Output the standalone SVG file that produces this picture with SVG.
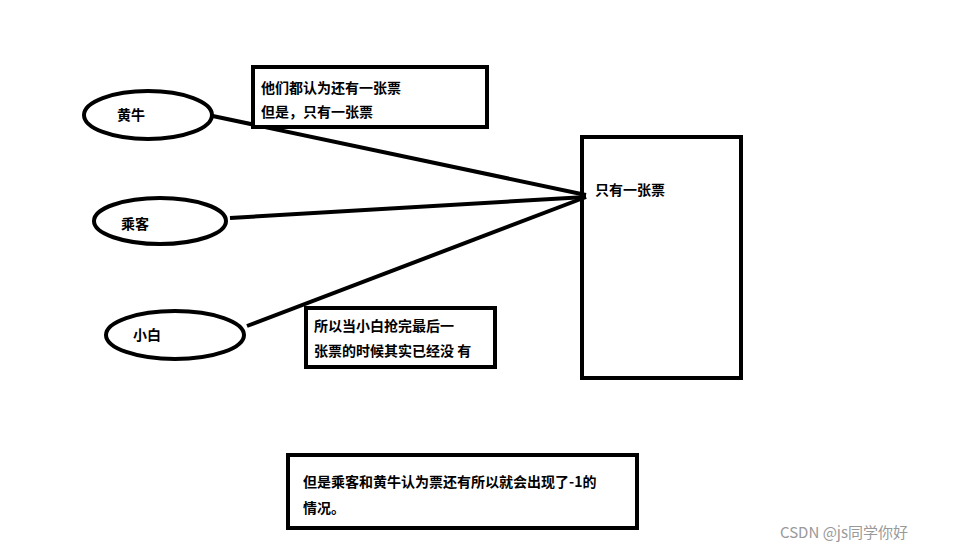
<svg xmlns="http://www.w3.org/2000/svg" width="962" height="552" viewBox="0 0 962 552">
<style>
.s{fill:#fff;stroke:#000;stroke-width:4}
.t{font-family:"Noto Sans CJK SC","Liberation Sans",sans-serif;font-size:14px;font-weight:bold;fill:#000}
.c{stroke:#000;stroke-width:4;fill:none}
</style>
<rect width="962" height="552" fill="#fff"/>
<g id="connectors">
<line class="c" x1="208" y1="115" x2="586" y2="195"/>
<line class="c" x1="230" y1="218" x2="586" y2="197"/>
<line class="c" x1="247" y1="326" x2="586" y2="197"/>
</g>
<g id="huangniu"><ellipse class="s" cx="148" cy="115" rx="64" ry="24"/><text class="t" x="117" y="120">黄牛</text></g>
<g id="chengke"><ellipse class="s" cx="160" cy="221" rx="66" ry="23"/><text class="t" x="121" y="229">乘客</text></g>
<g id="xiaobai"><ellipse class="s" cx="175" cy="335" rx="69" ry="24"/><text class="t" x="133" y="340">小白</text></g>
<g id="note1"><rect class="s" x="253" y="67" width="234" height="60"/><text class="t" x="261" y="93">他们都认为还有一张票</text><text class="t" x="261" y="117">但是，只有一张票</text></g>
<g id="ticket"><rect class="s" x="582" y="137" width="159" height="241" fill="none" style="fill:none"/><text class="t" x="595" y="195">只有一张票</text></g>
<g id="note2"><rect class="s" x="306" y="308" width="189" height="59"/><text class="t" x="314" y="331">所以当小白抢完最后一</text><text class="t" x="314" y="356">张票的时候其实已经没 有</text></g>
<g id="note3"><rect class="s" x="288" y="455" width="349" height="73"/><text class="t" x="303" y="487">但是乘客和黄牛认为票还有所以就会出现了-1的</text><text class="t" x="303" y="513">情况。</text></g>
<text x="780" y="538" style="font-family:'Noto Sans CJK SC','Liberation Sans',sans-serif;font-size:15px;fill:#999">CSDN @js同学你好</text>
</svg>
